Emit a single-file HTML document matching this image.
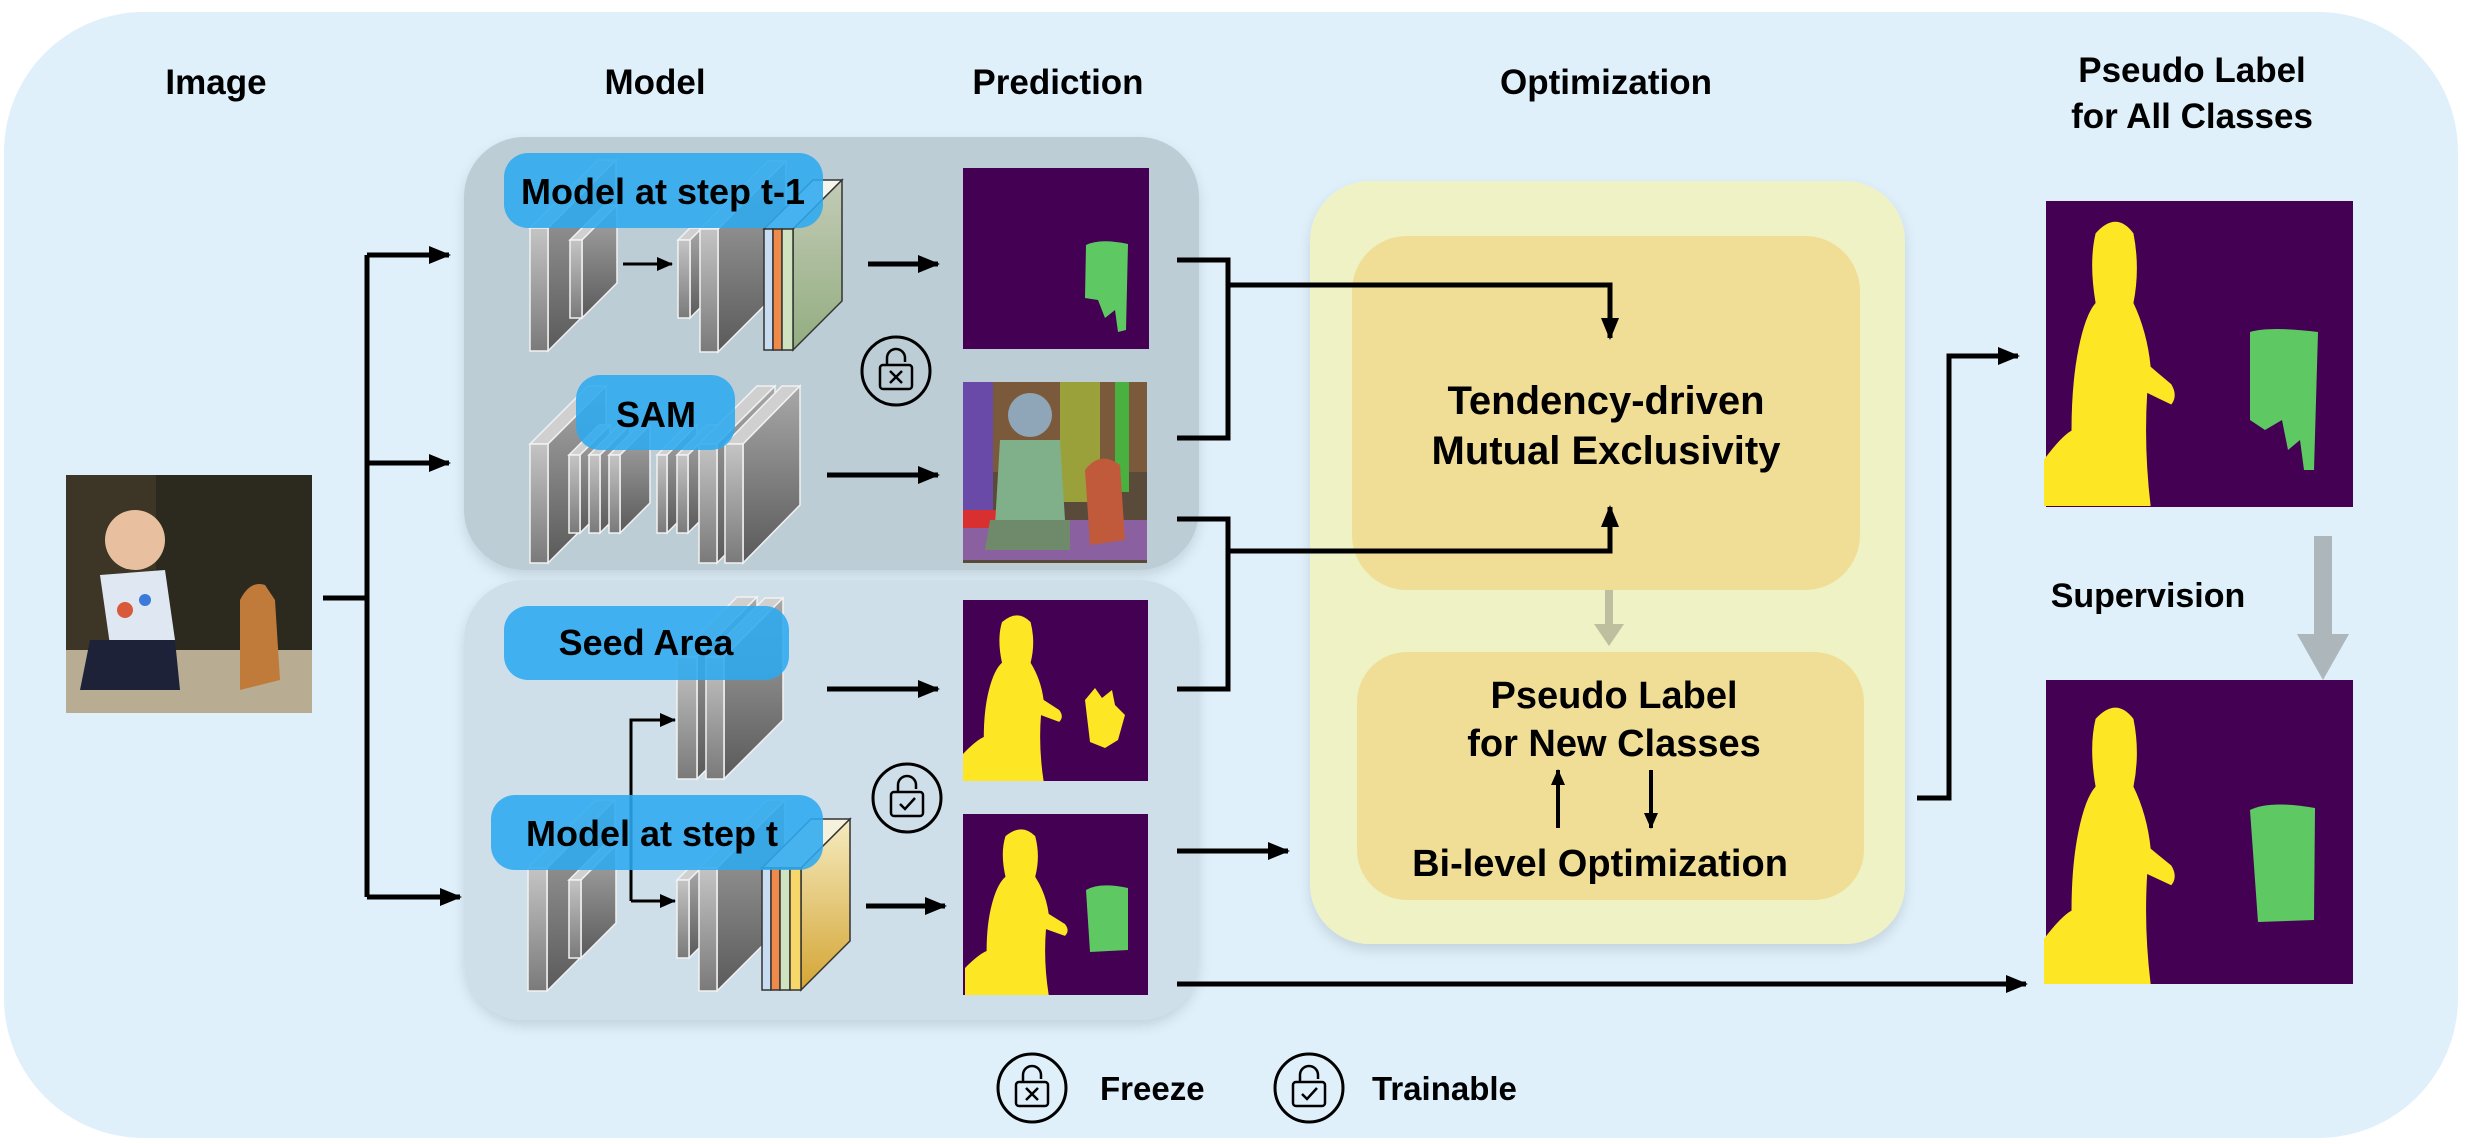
<!DOCTYPE html>
<html><head><meta charset="utf-8"><style>
html,body{margin:0;padding:0;background:#fff;}
svg{display:block;}
text{font-family:"Liberation Sans",Arial,sans-serif;font-weight:bold;fill:#000;}
</style></head><body>
<svg width="2468" height="1144" viewBox="0 0 2468 1144" xmlns="http://www.w3.org/2000/svg">
<defs>
<linearGradient id="gf" x1="0" y1="0" x2="0" y2="1"><stop offset="0" stop-color="#c4c4c4"/><stop offset="1" stop-color="#7a7a7a"/></linearGradient>
<linearGradient id="gs" x1="0" y1="0" x2="0" y2="1"><stop offset="0" stop-color="#a8a8a8"/><stop offset="1" stop-color="#5a5a5a"/></linearGradient>
<linearGradient id="gg" x1="0" y1="0" x2="0" y2="1"><stop offset="0" stop-color="#c3cbb6"/><stop offset="1" stop-color="#92ad80"/></linearGradient>
<linearGradient id="gy" x1="0" y1="0" x2="0" y2="1"><stop offset="0" stop-color="#f5ebc0"/><stop offset="1" stop-color="#d4a534"/></linearGradient>
<marker id="ah" markerWidth="16" markerHeight="14" refX="15" refY="7" orient="auto" markerUnits="userSpaceOnUse"><path d="M0,0 L16,7 L0,14 Z" fill="#000"/></marker>
<marker id="ab" markerWidth="22" markerHeight="18" refX="20" refY="9" orient="auto" markerUnits="userSpaceOnUse"><path d="M0,0 L22,9 L0,18 Z" fill="#000"/></marker>
<filter id="sh" x="-5%" y="-5%" width="110%" height="115%"><feDropShadow dx="0" dy="6" stdDeviation="6" flood-color="#000" flood-opacity="0.12"/></filter>
<g id="lockx">
<circle cx="0" cy="0" r="34" fill="none" stroke="#000" stroke-width="3"/>
<rect x="-16" y="-6" width="32" height="24" rx="3" fill="none" stroke="#000" stroke-width="2.5"/>
<path d="M-9,-6 V-13 A9,9 0 0 1 9,-13 V-9" fill="none" stroke="#000" stroke-width="2.5"/>
</g>
<g id="kid"><path d="M30,6 Q42,-2 52,6 Q56,18 52,30 Q60,40 62,52 L74,58 Q78,62 74,65 L60,61 Q58,80 62,100 L0,100 L0,84 Q10,76 16,74 Q16,58 20,46 Q24,34 30,30 Q26,16 30,6 Z"/></g>
</defs>

<!-- outer background -->
<rect x="4" y="12" width="2454" height="1126" rx="140" fill="#dff0fb"/>

<!-- titles -->
<text x="216" y="94" font-size="35" text-anchor="middle">Image</text>
<text x="655" y="94" font-size="35" text-anchor="middle">Model</text>
<text x="1058" y="94" font-size="35" text-anchor="middle">Prediction</text>
<text x="1606" y="94" font-size="35" text-anchor="middle">Optimization</text>
<text x="2192" y="82" font-size="35" text-anchor="middle">Pseudo Label</text>
<text x="2192" y="128" font-size="35" text-anchor="middle">for All Classes</text>

<!-- panels -->
<rect x="464" y="137" width="735" height="433" rx="60" fill="#bccdd6" filter="url(#sh)"/>
<rect x="464" y="580" width="735" height="440" rx="60" fill="#cfdfe9" filter="url(#sh)"/>
<rect x="1310" y="181" width="595" height="763" rx="60" fill="#eef2c4" filter="url(#sh)"/>
<rect x="1352" y="236" width="508" height="354" rx="55" fill="#f1de96"/>
<rect x="1357" y="652" width="507" height="248" rx="50" fill="#f1de96"/>

<!-- input image -->
<g>
<rect x="66" y="475" width="246" height="238" fill="#2c2a1f"/>
<rect x="66" y="475" width="90" height="238" fill="#3d3526"/>
<rect x="66" y="650" width="246" height="63" fill="#b8ad92"/>
<circle cx="135" cy="540" r="30" fill="#e8c0a0"/>
<path d="M100,575 L165,570 L175,640 L110,645 Z" fill="#dfe8f2"/>
<path d="M90,640 L175,640 L180,690 L80,690 Z" fill="#1d2238"/>
<circle cx="125" cy="610" r="8" fill="#d85a3a"/><circle cx="145" cy="600" r="6" fill="#3a7ad8"/>
<path d="M240,600 Q250,580 265,585 L275,600 L280,680 L240,690 Z" fill="#c07a3a"/>
</g>

<!-- connectors from image -->
<g stroke="#000" stroke-width="5" fill="none">
<line x1="323" y1="598" x2="367" y2="598"/>
<line x1="367" y1="255" x2="367" y2="897"/>
<line x1="367" y1="255" x2="449" y2="255" marker-end="url(#ab)"/>
<line x1="367" y1="463" x2="449" y2="463" marker-end="url(#ab)"/>
<line x1="367" y1="897" x2="460" y2="897" marker-end="url(#ab)"/>
</g>

<!-- plates -->
<g stroke="#f2f2f2" stroke-width="1.5">
<path d="M530,228 l68,-68 h18 l-68,68 Z" fill="#d0d0d0"/><path d="M548,228 l68,-68 v123 l-68,68 Z" fill="url(#gs)"/><rect x="530" y="228" width="18" height="123" fill="url(#gf)"/>
<path d="M570,240 l35,-35 h12 l-35,35 Z" fill="#d0d0d0"/><path d="M582,240 l35,-35 v78 l-35,35 Z" fill="url(#gs)"/><rect x="570" y="240" width="12" height="78" fill="url(#gf)"/>
<path d="M678,240 l12,-12 h12 l-12,12 Z" fill="#d0d0d0"/><path d="M690,240 l12,-12 v78 l-12,12 Z" fill="url(#gs)"/><rect x="678" y="240" width="12" height="78" fill="url(#gf)"/>
<path d="M700,229 l68,-68 h18 l-68,68 Z" fill="#d0d0d0"/><path d="M718,229 l68,-68 v123 l-68,68 Z" fill="url(#gs)"/><rect x="700" y="229" width="18" height="123" fill="url(#gf)"/>
<path d="M764,229 l49,-49 h29 l-49,49 Z" fill="#f4f6ee" stroke="#333"/>
<path d="M793,229 l49,-49 v121 l-49,49 Z" fill="url(#gg)" stroke="#333"/>
<rect x="764" y="229" width="9" height="121" fill="#c9ddf2" stroke="#333"/>
<rect x="773" y="229" width="9" height="121" fill="#ef8a4a" stroke="#333"/>
<rect x="782" y="229" width="11" height="121" fill="#cfe3c0" stroke="#333"/>
<path d="M530,444 l58,-58 h18 l-58,58 Z" fill="#d0d0d0"/><path d="M548,444 l58,-58 v119 l-58,58 Z" fill="url(#gs)"/><rect x="530" y="444" width="18" height="119" fill="url(#gf)"/>
<path d="M569,455 l30,-30 h11 l-30,30 Z" fill="#d0d0d0"/><path d="M580,455 l30,-30 v78 l-30,30 Z" fill="url(#gs)"/><rect x="569" y="455" width="11" height="78" fill="url(#gf)"/>
<path d="M589,455 l30,-30 h11 l-30,30 Z" fill="#d0d0d0"/><path d="M600,455 l30,-30 v78 l-30,30 Z" fill="url(#gs)"/><rect x="589" y="455" width="11" height="78" fill="url(#gf)"/>
<path d="M609,455 l30,-30 h11 l-30,30 Z" fill="#d0d0d0"/><path d="M620,455 l30,-30 v78 l-30,30 Z" fill="url(#gs)"/><rect x="609" y="455" width="11" height="78" fill="url(#gf)"/>
<path d="M657,455 l30,-30 h10 l-30,30 Z" fill="#d0d0d0"/><path d="M667,455 l30,-30 v78 l-30,30 Z" fill="url(#gs)"/><rect x="657" y="455" width="10" height="78" fill="url(#gf)"/>
<path d="M677,455 l30,-30 h11 l-30,30 Z" fill="#d0d0d0"/><path d="M688,455 l30,-30 v78 l-30,30 Z" fill="url(#gs)"/><rect x="677" y="455" width="11" height="78" fill="url(#gf)"/>
<path d="M699,444 l58,-58 h18 l-58,58 Z" fill="#d0d0d0"/><path d="M717,444 l58,-58 v119 l-58,58 Z" fill="url(#gs)"/><rect x="699" y="444" width="18" height="119" fill="url(#gf)"/>
<path d="M725,444 l57,-58 h18 l-57,58 Z" fill="#d0d0d0"/><path d="M743,444 l57,-58 v119 l-57,58 Z" fill="url(#gs)"/><rect x="725" y="444" width="18" height="119" fill="url(#gf)"/>
<path d="M677,657 l60,-60 h20 l-60,60 Z" fill="#d0d0d0"/><path d="M697,657 l60,-60 v122 l-60,60 Z" fill="url(#gs)"/><rect x="677" y="657" width="20" height="122" fill="url(#gf)"/>
<path d="M706,657 l59,-59 h18 l-59,59 Z" fill="#d0d0d0"/><path d="M724,657 l59,-59 v122 l-59,59 Z" fill="url(#gs)"/><rect x="706" y="657" width="18" height="122" fill="url(#gf)"/>
<path d="M528,868 l68,-68 h19 l-68,68 Z" fill="#d0d0d0"/><path d="M547,868 l68,-68 v123 l-68,68 Z" fill="url(#gs)"/><rect x="528" y="868" width="19" height="123" fill="url(#gf)"/>
<path d="M569,880 l35,-35 h12 l-35,35 Z" fill="#d0d0d0"/><path d="M581,880 l35,-35 v78 l-35,35 Z" fill="url(#gs)"/><rect x="569" y="880" width="12" height="78" fill="url(#gf)"/>
<path d="M677,880 l12,-12 h12 l-12,12 Z" fill="#d0d0d0"/><path d="M689,880 l12,-12 v78 l-12,12 Z" fill="url(#gs)"/><rect x="677" y="880" width="12" height="78" fill="url(#gf)"/>
<path d="M699,868 l68,-68 h18 l-68,68 Z" fill="#d0d0d0"/><path d="M717,868 l68,-68 v123 l-68,68 Z" fill="url(#gs)"/><rect x="699" y="868" width="18" height="123" fill="url(#gf)"/>
<path d="M762,868 l49,-49 h39 l-49,49 Z" fill="#f6f1dc" stroke="#333"/>
<path d="M801,868 l49,-49 v122 l-49,49 Z" fill="url(#gy)" stroke="#333"/>
<rect x="762" y="868" width="9" height="122" fill="#c9ddf2" stroke="#333"/>
<rect x="771" y="868" width="9" height="122" fill="#ef8a4a" stroke="#333"/>
<rect x="780" y="868" width="10" height="122" fill="#cfe3c0" stroke="#333"/>
<rect x="790" y="868" width="11" height="122" fill="#f7d66a" stroke="#333"/>
</g>

<g stroke="#000" stroke-width="3" fill="none">
<line x1="623" y1="264" x2="672" y2="264" marker-end="url(#ah)"/>
<polyline points="631,901 631,720 675,720" marker-end="url(#ah)"/>
<line x1="631" y1="901" x2="675" y2="901" marker-end="url(#ah)"/>
</g>

<g fill="#2eaaf0" fill-opacity="0.88">
<rect x="504" y="153" width="319" height="75" rx="24"/>
<rect x="576" y="375" width="159" height="75" rx="24"/>
<rect x="504" y="606" width="285" height="74" rx="24"/>
<rect x="491" y="795" width="332" height="75" rx="24"/>
</g>
<text x="663" y="204" font-size="36" text-anchor="middle">Model at step t-1</text>
<text x="656" y="427" font-size="36" text-anchor="middle">SAM</text>
<text x="646" y="655" font-size="36" text-anchor="middle">Seed Area</text>
<text x="652" y="846" font-size="36" text-anchor="middle">Model at step t</text>

<g stroke="#000" stroke-width="5" fill="none">
<line x1="868" y1="264" x2="938" y2="264" marker-end="url(#ab)"/>
<line x1="827" y1="475" x2="938" y2="475" marker-end="url(#ab)"/>
<line x1="827" y1="689" x2="938" y2="689" marker-end="url(#ab)"/>
<line x1="866" y1="906" x2="945" y2="906" marker-end="url(#ab)"/>
</g>

<g transform="translate(896,371)"><use href="#lockx"/><path d="M-6,0 L6,12 M6,0 L-6,12" stroke="#000" stroke-width="2.5"/></g>
<g transform="translate(907,798)"><use href="#lockx"/><path d="M-7,6 L-2,11 L8,0" stroke="#000" stroke-width="2.5" fill="none"/></g>

<rect x="963" y="168" width="186" height="181" fill="#440154"/>
<path d="M1086,245 Q1100,238 1128,244 L1126,330 L1118,332 L1115,310 L1105,318 L1098,300 L1085,298 Z" fill="#5ec962"/>
<g>
<rect x="963" y="382" width="184" height="181" fill="#5a4a3a"/>
<rect x="963" y="382" width="184" height="90" fill="#7a5a3a"/>
<rect x="963" y="382" width="30" height="150" fill="#6a4aa8"/>
<rect x="1060" y="382" width="40" height="120" fill="#9aa03a"/>
<rect x="1115" y="382" width="14" height="110" fill="#4ab040"/>
<rect x="963" y="520" width="184" height="40" fill="#8a60a0"/>
<rect x="963" y="510" width="100" height="18" fill="#d83030"/>
<circle cx="1030" cy="415" r="22" fill="#8fa6b8"/>
<path d="M1000,440 L1060,440 L1065,520 L995,525 Z" fill="#7fb08a"/>
<path d="M990,520 L1070,520 L1070,550 L985,550 Z" fill="#6f8a6a"/>
<path d="M1085,470 Q1100,450 1120,465 L1125,540 L1090,545 Z" fill="#c05a3a"/>
</g>
<rect x="963" y="600" width="185" height="181" fill="#440154"/>
<g fill="#fde725" transform="translate(963,612) scale(1.3,1.69)"><use href="#kid"/></g>
<path d="M1085,700 L1095,688 L1102,698 L1112,690 L1115,705 L1125,715 L1118,740 L1105,748 L1090,742 Z" fill="#fde725"/>
<rect x="963" y="814" width="185" height="181" fill="#440154"/>
<g fill="#fde725" transform="translate(965,826) scale(1.35,1.69)"><use href="#kid"/></g>
<path d="M1086,890 Q1100,882 1128,888 L1128,950 L1090,952 Z" fill="#5ec962"/>

<g stroke="#000" stroke-width="5" fill="none">
<polyline points="1177,260 1228,260 1228,438 1177,438"/>
<polyline points="1228,285 1610,285 1610,338" marker-end="url(#ab)"/>
<polyline points="1177,519 1228,519 1228,689 1177,689"/>
<polyline points="1228,551 1610,551 1610,507" marker-end="url(#ab)"/>
<line x1="1177" y1="851" x2="1288" y2="851" marker-end="url(#ab)"/>
<line x1="1177" y1="984" x2="2026" y2="984" marker-end="url(#ab)"/>
<polyline points="1917,798 1949,798 1949,356 2018,356" marker-end="url(#ab)"/>
</g>

<line x1="1609" y1="590" x2="1609" y2="628" stroke="#bdbf9e" stroke-width="8"/>
<path d="M1594,624 L1624,624 L1609,646 Z" fill="#bdbf9e"/>

<text x="1606" y="414" font-size="40" text-anchor="middle">Tendency-driven</text>
<text x="1606" y="464" font-size="40" text-anchor="middle">Mutual Exclusivity</text>
<text x="1614" y="708" font-size="38" text-anchor="middle">Pseudo Label</text>
<text x="1614" y="756" font-size="38" text-anchor="middle">for New Classes</text>
<text x="1600" y="876" font-size="38" text-anchor="middle">Bi-level Optimization</text>
<g stroke="#000" stroke-width="4" fill="none">
<line x1="1558" y1="828" x2="1558" y2="770" marker-end="url(#ah)"/>
<line x1="1651" y1="770" x2="1651" y2="828" marker-end="url(#ah)"/>
</g>

<rect x="2046" y="201" width="307" height="306" fill="#440154"/>
<g fill="#fde725" transform="translate(2044,216) scale(1.72,2.9)"><use href="#kid"/></g>
<path d="M2250,332 Q2270,326 2318,332 L2314,470 L2304,470 L2300,440 L2288,450 L2282,420 L2265,430 L2250,420 Z" fill="#5ec962"/>
<rect x="2046" y="680" width="307" height="304" fill="#440154"/>
<g fill="#fde725" transform="translate(2044,702) scale(1.72,2.82)"><use href="#kid"/></g>
<path d="M2250,810 Q2270,800 2315,808 L2314,920 L2258,922 Z" fill="#5ec962"/>

<text x="2148" y="607" font-size="34" text-anchor="middle">Supervision</text>
<rect x="2314" y="536" width="18" height="100" fill="#adb6bb"/>
<path d="M2297,634 L2349,634 L2323,680 Z" fill="#adb6bb"/>

<g transform="translate(1032,1088)"><use href="#lockx"/><path d="M-6,0 L6,12 M6,0 L-6,12" stroke="#000" stroke-width="2.5"/></g>
<text x="1100" y="1100" font-size="33">Freeze</text>
<g transform="translate(1309,1088)"><use href="#lockx"/><path d="M-7,6 L-2,11 L8,0" stroke="#000" stroke-width="2.5" fill="none"/></g>
<text x="1372" y="1100" font-size="33">Trainable</text>
</svg>
</body></html>
